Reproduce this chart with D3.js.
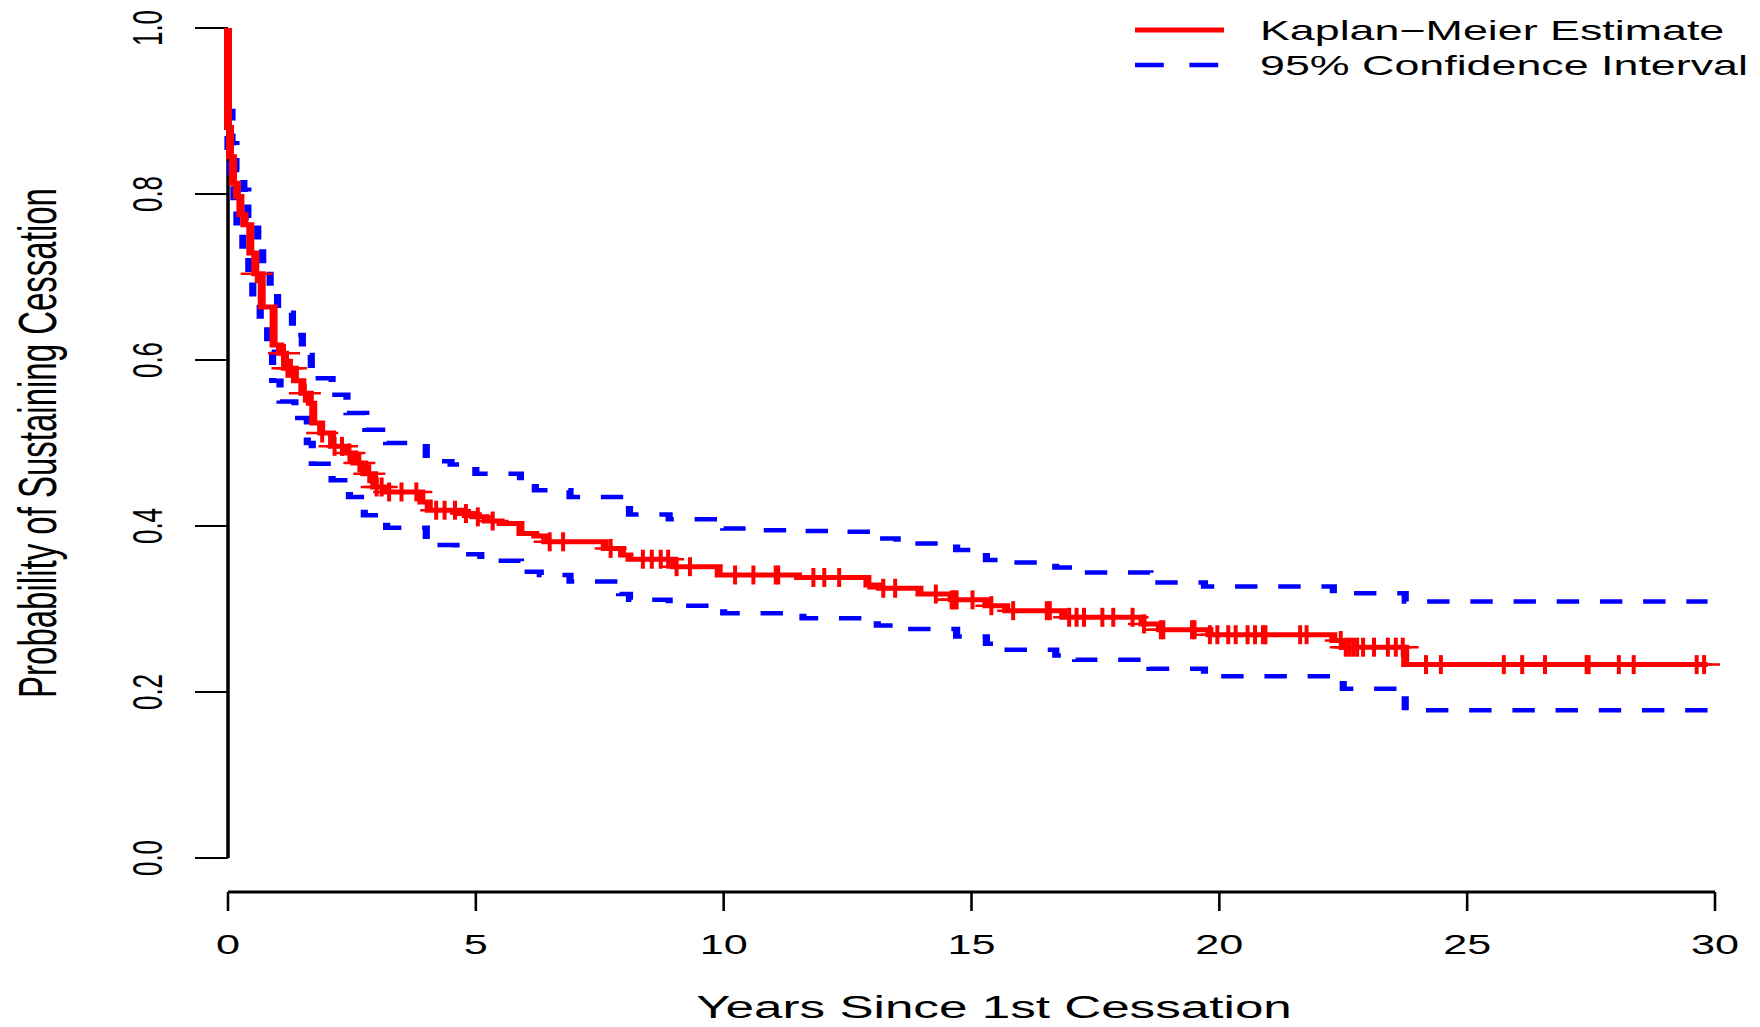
<!DOCTYPE html>
<html>
<head>
<meta charset="utf-8">
<script src="https://cdn.jsdelivr.net/npm/d3@7"></script>
<style>
html, body { margin: 0; padding: 0; background: #fff; }
svg { display: block; }
text { font-family: "Liberation Sans", Arial, Helvetica, sans-serif; fill: #000; }
</style>
</head>
<body>
<div id="chart"></div>
<script>
// Kaplan-Meier estimate: time of each drop and survival after it
const kmTime = [0, 0, 0.04, 0.1, 0.18, 0.25, 0.33, 0.45, 0.55, 0.68, 0.92, 1.05, 1.15, 1.35, 1.5, 1.65, 1.72, 1.88, 2.1, 2.35, 2.55, 2.75, 2.95, 3.2, 3.9, 4.05, 4.7, 4.95, 5.2, 5.5, 5.9, 6.2, 6.4, 7.6, 7.95, 8.1, 9.0, 9.9, 11.5, 12.9, 13.15, 13.95, 14.6, 15.3, 15.7, 16.85, 18.45, 18.8, 19.8, 22.3, 22.5, 23.75];
const kmSurv = [1.0, 0.88, 0.845, 0.813, 0.797, 0.775, 0.763, 0.729, 0.704, 0.664, 0.618, 0.608, 0.59, 0.575, 0.56, 0.548, 0.524, 0.512, 0.496, 0.488, 0.476, 0.463, 0.447, 0.441, 0.429, 0.419, 0.415, 0.411, 0.406, 0.403, 0.391, 0.388, 0.381, 0.373, 0.365, 0.36, 0.351, 0.341, 0.338, 0.329, 0.325, 0.318, 0.311, 0.304, 0.298, 0.29, 0.282, 0.275, 0.269, 0.262, 0.254, 0.233];

// 95% confidence band
const upTime = [0, 0, 0.08, 0.16, 0.32, 0.4, 0.6, 0.7, 0.85, 1.0, 1.3, 1.5, 1.68, 2.1, 2.4, 2.78, 3.2, 4.0, 4.5, 5.0, 5.9, 6.2, 6.9, 7.9, 8.1, 8.9, 10.0, 10.5, 11.5, 12.2, 13.1, 13.5, 14.7, 15.3, 15.6, 16.7, 17.1, 18.6, 19.7, 22.3, 23.75];
const upVal = [1.0, 0.9, 0.861, 0.829, 0.805, 0.771, 0.743, 0.711, 0.683, 0.657, 0.63, 0.606, 0.578, 0.558, 0.536, 0.516, 0.5, 0.478, 0.474, 0.463, 0.451, 0.443, 0.435, 0.425, 0.414, 0.408, 0.397, 0.395, 0.394, 0.393, 0.385, 0.379, 0.371, 0.359, 0.356, 0.35, 0.344, 0.332, 0.327, 0.319, 0.309];
const loTime = [0, 0, 0.05, 0.12, 0.18, 0.3, 0.42, 0.5, 0.65, 0.8, 0.9, 1.05, 1.35, 1.6, 1.7, 2.1, 2.45, 2.75, 3.2, 4.0, 4.6, 5.1, 5.9, 6.3, 6.9, 7.9, 8.1, 8.9, 10.0, 11.6, 13.1, 13.5, 14.7, 15.3, 15.6, 16.7, 17.1, 18.6, 19.7, 22.3, 22.5, 23.75];
const loVal = [1.0, 0.845, 0.82, 0.79, 0.76, 0.73, 0.70, 0.67, 0.64, 0.61, 0.575, 0.55, 0.53, 0.50, 0.475, 0.455, 0.435, 0.413, 0.398, 0.377, 0.366, 0.358, 0.345, 0.341, 0.333, 0.318, 0.311, 0.304, 0.295, 0.289, 0.28, 0.276, 0.267, 0.258, 0.251, 0.244, 0.239, 0.228, 0.219, 0.214, 0.204, 0.178];

// censored observations (years)
const censorTimes = [0.58, 1.13, 1.2, 1.27, 1.55, 1.9, 2.15, 2.3, 2.45, 2.65, 2.85, 3.0, 3.1, 3.25, 3.5, 3.8, 4.2, 4.37, 4.58, 4.8, 5.04, 5.34, 6.49, 6.76, 7.72, 8.37, 8.55, 8.73, 8.88, 9.05, 9.32, 10.23, 10.6, 11.05, 11.1, 11.81, 12.03, 12.33, 13.22, 13.46, 14.28, 14.6, 14.65, 14.7, 15.02, 15.4, 15.84, 16.52, 16.58, 16.97, 17.12, 17.27, 17.64, 17.86, 18.25, 18.48, 18.82, 18.87, 19.45, 19.5, 19.81, 19.96, 20.18, 20.33, 20.57, 20.72, 20.88, 20.93, 21.63, 21.76, 22.45, 22.55, 22.62, 22.7, 22.78, 22.9, 23.12, 23.4, 23.56, 23.7, 24.17, 24.47, 25.74, 26.11, 26.57, 27.41, 27.45, 28.06, 28.36, 29.63, 29.78];
const endTime = 29.85;

const xTicks = [0, 5, 10, 15, 20, 25, 30];
const yTicks = [0, 0.2, 0.4, 0.6, 0.8, 1.0];
const legendLabels = ['Kaplan\u2212Meier Estimate', '95% Confidence Interval'];

// the picture is stretched sideways: draw in a narrow frame, then widen it
const S = 1.6;
const W = 1760, H = 1027;

const svg = d3.select('#chart').append('svg')
    .attr('width', W).attr('height', H)
    .attr('viewBox', `0 0 ${W} ${H}`);

const g = svg.append('g').attr('transform', `scale(${S},1)`);

const x = d3.scaleLinear().domain([0, 30]).range([228 / S, 1715 / S]);
const y = d3.scaleLinear().domain([0, 1]).range([858, 28]);

// y axis
g.append('line')
    .attr('x1', x(0)).attr('x2', x(0))
    .attr('y1', y(1)).attr('y2', y(0))
    .attr('stroke', '#000').attr('stroke-width', 2.2);
g.selectAll('.ytick').data(yTicks).enter().append('line')
    .attr('x1', x(0)).attr('x2', x(0) - 20.6)
    .attr('y1', d => y(d)).attr('y2', d => y(d))
    .attr('stroke', '#000').attr('stroke-width', 1.8);
g.selectAll('.ylab').data(yTicks).enter().append('text')
    .attr('transform', d => `translate(101,${y(d)}) rotate(-90)`)
    .attr('text-anchor', 'middle')
    .style('font-size', '26px')
    .text(d => d3.format('.1f')(d));
g.append('text')
    .attr('transform', `translate(35,${(y(0) + y(1)) / 2}) rotate(-90)`)
    .attr('text-anchor', 'middle')
    .style('font-size', '33px')
    .text('Probability of Sustaining Cessation');

// x axis
const xAxisY = 892;
g.append('line')
    .attr('x1', x(0)).attr('x2', x(30))
    .attr('y1', xAxisY).attr('y2', xAxisY)
    .attr('stroke', '#000').attr('stroke-width', 3);
g.selectAll('.xtick').data(xTicks).enter().append('line')
    .attr('x1', d => x(d)).attr('x2', d => x(d))
    .attr('y1', xAxisY).attr('y2', xAxisY + 19)
    .attr('stroke', '#000').attr('stroke-width', 1.6);
g.selectAll('.xlab').data(xTicks).enter().append('text')
    .attr('x', d => x(d)).attr('y', 954)
    .attr('text-anchor', 'middle')
    .style('font-size', '27px')
    .text(d => d);
g.append('text')
    .attr('x', 994 / S).attr('y', 1018)
    .attr('text-anchor', 'middle')
    .style('font-size', '32px')
    .text('Years Since 1st Cessation');

// step curves
function steps(times, vals) {
    const pts = times.map((t, i) => [t, vals[i]]);
    pts.push([endTime, vals[vals.length - 1]]);
    return pts;
}
const stepLine = d3.line().x(d => x(d[0])).y(d => y(d[1])).curve(d3.curveStepAfter);

[steps(upTime, upVal), steps(loTime, loVal)].forEach(pts => {
    g.append('path')
        .attr('d', stepLine(pts))
        .attr('fill', 'none')
        .attr('stroke', '#0000ff')
        .attr('stroke-width', 4.5)
        .attr('stroke-dasharray', '14,13');
});

g.append('path')
    .attr('d', stepLine(steps(kmTime, kmSurv)))
    .attr('fill', 'none')
    .attr('stroke', '#ff0000')
    .attr('stroke-width', 5);

// censor marks sit on the KM curve
const survAt = t => kmSurv[d3.bisectRight(kmTime, t) - 1];
const marks = g.selectAll('.cens').data(censorTimes).enter().append('g')
    .attr('transform', d => `translate(${x(d)},${y(survAt(d))})`);
marks.append('line').attr('x1', -10).attr('x2', 10).attr('y1', 0).attr('y2', 0)
    .attr('stroke', '#ff0000').attr('stroke-width', 2.5);
marks.append('line').attr('x1', 0).attr('x2', 0).attr('y1', -9.5).attr('y2', 9.5)
    .attr('stroke', '#ff0000').attr('stroke-width', 2.5);

// legend
const legX = 1135 / S, legLen = 89 / S;
const leg = [
    {label: legendLabels[0], color: '#ff0000', dash: null, w: 5, cy: 30, by: 40},
    {label: legendLabels[1], color: '#0000ff', dash: '18,16', w: 4.5, cy: 65, by: 75}
];
leg.forEach(d => {
    g.append('line')
        .attr('x1', legX).attr('x2', legX + legLen)
        .attr('y1', d.cy).attr('y2', d.cy)
        .attr('stroke', d.color).attr('stroke-width', d.w)
        .attr('stroke-dasharray', d.dash);
    g.append('text')
        .attr('x', 1260 / S).attr('y', d.by)
        .style('font-size', '28px')
        .text(d.label);
});
</script>
</body>
</html>
